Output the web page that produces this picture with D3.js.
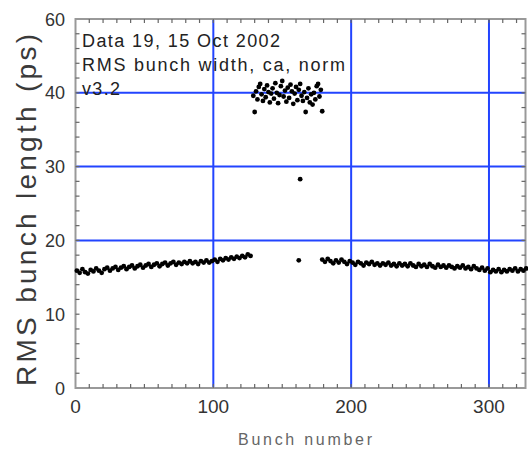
<!DOCTYPE html>
<html><head><meta charset="utf-8">
<script src="https://cdn.jsdelivr.net/npm/d3@7"></script>
<style>
html,body{margin:0;padding:0;background:#fff;}
svg{display:block;font-family:"Liberation Sans",Arial,sans-serif;}
</style></head>
<body><svg id="c" width="528" height="449"></svg>
<script>
// ---- data ----
const xTicks = [0, 100, 200, 300];
const xTickLabels = ["0", "100", "200", "300"];
const yTicks = [0, 10, 20, 30, 40, 50];
const yTickLabels = ["0", "10", "20", "30", "40", "60"];
const xGrid = [100, 200, 300];
const yGrid = [20, 30, 40];
const annotations = ["Data 19, 15 Oct 2002", "RMS bunch width, ca, norm", "v3.2"];
const xTitle = "Bunch number";
const yTitle = "RMS bunch length (ps)";

// low band, bunches 1,3,5,...
const leftStart = 1;
const leftValues = [15.9,15.6,16.1,15.7,15.5,16.0,15.8,16.2,15.9,15.6,16.1,16.3,15.9,16.2,16.4,16.0,
  16.3,16.5,16.1,16.4,16.6,16.2,16.5,16.7,16.3,16.6,16.8,16.4,16.7,16.9,16.5,16.8,
  17.0,16.6,16.9,17.1,16.7,17.0,16.8,17.1,16.9,17.2,16.9,17.1,16.8,17.2,17.0,17.3,
  17.0,17.2,17.4,17.1,17.5,17.3,17.6,17.4,17.7,17.5,17.8,17.6,17.9,17.7,18.1,17.9];
// right band, bunches 179,181,...
const rightStart = 179;
const rightValues = [17.4,17.1,17.5,17.2,16.9,17.3,17.0,17.4,17.1,16.8,17.2,17.0,16.7,17.1,16.9,16.6,
  17.0,16.8,17.1,16.7,16.9,16.6,16.9,16.7,17.0,16.6,16.8,16.5,16.9,16.6,16.8,16.5,
  16.9,16.6,16.4,16.8,16.5,16.7,16.4,16.8,16.5,16.3,16.7,16.4,16.6,16.3,16.6,16.4,
  16.2,16.5,16.3,16.6,16.2,16.4,16.1,16.5,16.2,16.0,16.3,15.9,16.2,15.7,16.0,15.8,
  16.1,15.7,16.0,15.8,16.1,15.9,16.2,15.8,16.1,15.9,16.2];
// high cluster + isolated points: [bunch, value]
const clusterBunches = [129,130,131,132,133,134,135,136,137,138,139,140,141,142,143,144,145,146,147,148,
  149,150,151,152,153,154,155,156,157,158,159,160,161,162,163,164,165,166,167,168,169,170,171,172,173,
  174,175,176,177,178,179,163,162];
const clusterValues = [39.6,37.4,40.2,39.1,40.8,41.2,39.8,38.9,40.5,39.4,41.0,40.1,38.7,39.9,40.6,39.2,
  41.3,40.0,38.6,39.7,40.9,41.6,39.5,40.3,38.8,40.7,39.3,41.1,40.2,38.5,39.9,40.8,39.0,40.4,41.2,39.6,
  38.9,40.1,37.4,39.3,40.6,38.7,39.8,38.4,40.0,39.1,40.9,41.2,39.5,40.4,37.5,28.3,17.3];

// ---- layout ----
const svg = d3.select("#c");
const x = d3.scaleLinear().domain([0, 326.5]).range([75.5, 525.5]);
const y = d3.scaleLinear().domain([0, 50]).range([388, 19]);
const [x0, x1] = x.range(), [y0, y1] = y.range();
const blue = "#2244ff";

// grid
svg.append("g").selectAll("line").data(xGrid).join("line")
  .attr("x1", d => x(d)).attr("x2", d => x(d)).attr("y1", y1).attr("y2", y0)
  .attr("stroke", blue).attr("stroke-width", 2);
svg.append("g").selectAll("line").data(yGrid).join("line")
  .attr("y1", d => y(d)).attr("y2", d => y(d)).attr("x1", x0).attr("x2", x1)
  .attr("stroke", blue).attr("stroke-width", 2);

// frame
svg.append("rect").attr("x", x0).attr("y", y1).attr("width", x1 - x0).attr("height", y0 - y1)
  .attr("fill", "none").attr("stroke", "#999").attr("stroke-width", 2);

// minor ticks
const tickCol = "#666";
const xMinor = d3.range(10, 326, 10);
const yMinor = d3.range(2, 50, 2);
const tg = svg.append("g").attr("stroke", tickCol).attr("stroke-width", 1.2);
tg.selectAll(".xb").data(xMinor).join("line").attr("x1", d => x(d)).attr("x2", d => x(d)).attr("y1", y0).attr("y2", y0 - 4);
tg.selectAll(".xt").data(xMinor).join("line").attr("class","xt").attr("x1", d => x(d)).attr("x2", d => x(d)).attr("y1", y1).attr("y2", y1 + 4);
tg.selectAll(".yl").data(yMinor).join("line").attr("class","yl").attr("y1", d => y(d)).attr("y2", d => y(d)).attr("x1", x0).attr("x2", x0 + 4);
tg.selectAll(".yr").data(yMinor).join("line").attr("class","yr").attr("y1", d => y(d)).attr("y2", d => y(d)).attr("x1", x1).attr("x2", x1 - 4);

// tick labels
svg.append("g").selectAll("text").data(xTicks).join("text")
  .attr("x", d => x(d)).attr("y", 413).attr("text-anchor", "middle")
  .attr("font-size", 19).attr("fill", "#333").text((d, i) => xTickLabels[i]);
svg.append("g").selectAll("text").data(yTicks).join("text")
  .attr("x", 65).attr("y", d => y(d) + 6.5).attr("text-anchor", "end")
  .attr("font-size", 18).attr("fill", "#333").text((d, i) => yTickLabels[i]);

// axis titles
svg.append("text").attr("x", 305).attr("y", 445).attr("text-anchor", "middle")
  .attr("font-size", 16).attr("fill", "#666")
  .attr("textLength", 134).attr("lengthAdjust", "spacing").text(xTitle);
svg.append("text").attr("transform", "translate(36,210) rotate(-90)").attr("text-anchor", "middle")
  .attr("font-size", 28).attr("fill", "#3a3a3a")
  .attr("textLength", 352).attr("lengthAdjust", "spacing").text(yTitle);

// annotations
const annLen = [198, 263, 38];
svg.append("g").selectAll("text").data(annotations).join("text")
  .attr("x", 82).attr("y", (d, i) => 47 + i * 24)
  .attr("font-size", 18).attr("fill", "#222")
  .attr("textLength", (d, i) => annLen[i]).attr("lengthAdjust", "spacing").text(d => d);

// points
const pts = [];
leftValues.forEach((v, i) => pts.push([leftStart + 2 * i, v]));
rightValues.forEach((v, i) => pts.push([rightStart + 2 * i, v]));
clusterValues.forEach((v, i) => pts.push([clusterBunches[i], v]));
svg.append("g").selectAll("circle").data(pts).join("circle")
  .attr("cx", d => x(d[0])).attr("cy", d => y(d[1])).attr("r", 2.4).attr("fill", "#000");
</script></body></html>
